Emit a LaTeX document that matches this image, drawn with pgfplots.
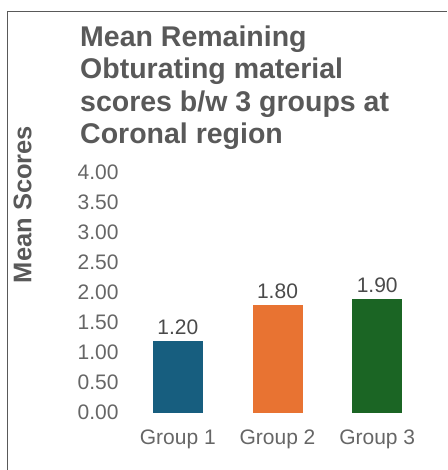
\documentclass[border=0pt]{standalone}
\usepackage{fontspec}
\setmainfont{Liberation Sans}
\usepackage{pgfplots}
\pgfplotsset{compat=1.18}

\definecolor{gone}{HTML}{175E7F}
\definecolor{gtwo}{HTML}{E87332}
\definecolor{gthree}{HTML}{1B6524}
\definecolor{titlegray}{HTML}{595959}
\definecolor{tickgray}{HTML}{666666}
\definecolor{valgray}{HTML}{4A4A4A}

\begin{document}
\begin{tikzpicture}
  \useasboundingbox (0,0) rectangle (447pt,470pt);
  % frame: top and left edge only
  \draw[titlegray, line width=1.5pt] (7.5pt,0) -- (7.5pt,458.5pt) -- (447pt,458.5pt);

  \node[anchor=north west, inner sep=0, align=left, text=titlegray,
        font=\fontsize{28.5}{32.5}\selectfont\bfseries] at (80pt,444.5pt)
    {Mean Remaining\\Obturating material\\scores b/w 3 groups at\\Coronal region};

  \node[rotate=90, inner sep=0, text=titlegray, font=\fontsize{25.5}{28}\selectfont\bfseries]
    at (22.5pt,265.5pt) {Mean Scores};

  \begin{axis}[
    at={(122pt,57.3pt)}, anchor=south west,
    scale only axis, width=311pt, height=240pt,
    xmin=-0.56, xmax=2.56, ymin=0, ymax=4,
    axis line style={draw=none},
    major tick style={draw=none},
    ytick={0,0.5,...,4},
    xtick={0,1,2},
    xticklabels={Group 1, Group 2, Group 3},
    /pgf/number format/assume math mode=true,
    yticklabel={\pgfmathprintnumber[fixed,fixed zerofill,precision=2]{\tick}},
    ticklabel style={font=\fontsize{21}{24}\selectfont, text=tickgray},
    xticklabel style={yshift=-9pt},
    ybar, bar width=50pt, bar shift=0pt,
    nodes near coords={\pgfmathprintnumber[fixed,fixed zerofill,precision=2]{\pgfplotspointmeta}},
    nodes near coords style={font=\fontsize{21}{24}\selectfont, text=valgray,
      anchor=south, inner sep=0pt, yshift=5.5pt},
  ]
    \addplot[draw=none, fill=gone] coordinates {(0,1.2)};
    \addplot[draw=none, fill=gtwo] coordinates {(1,1.8)};
    \addplot[draw=none, fill=gthree] coordinates {(2,1.9)};
  \end{axis}
\end{tikzpicture}
\end{document}
